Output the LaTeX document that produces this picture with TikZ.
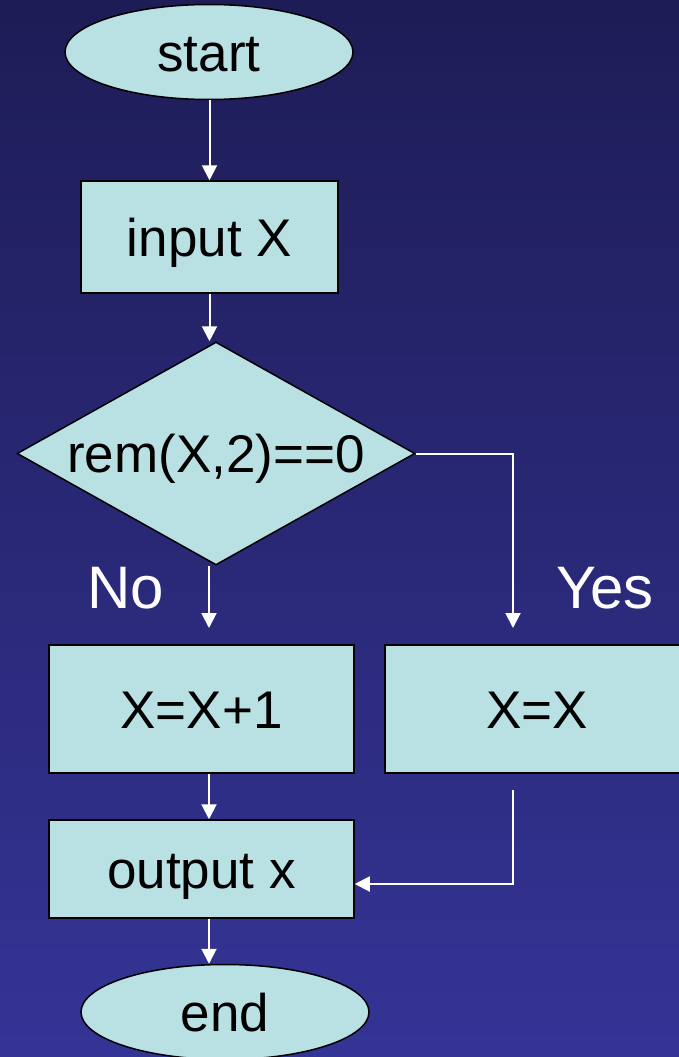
\documentclass[tikz,border=0pt]{standalone}
\usepackage{fontspec}
\setmainfont{Liberation Sans}
\usetikzlibrary{shapes.geometric}
\usetikzlibrary{arrows.meta}
\definecolor{slidetop}{RGB}{30,28,86}
\definecolor{slidebot}{RGB}{52,52,150}
\definecolor{boxfill}{RGB}{185,224,227}
\tikzset{
  block/.style={draw=black, line width=1.5pt, fill=boxfill, inner sep=0pt,
    font=\fontsize{53pt}{60pt}\selectfont, text height=38pt, text depth=0pt},
  term/.style={block, ellipse, minimum width=288pt, minimum height=95pt},
  proc/.style={block, rectangle},
  test/.style={block, diamond, shape aspect=1.785, minimum width=398pt, minimum height=223pt},
  answer/.style={text=white, font=\fontsize{60pt}{66pt}\selectfont, text height=43pt, text depth=0pt},
  flow/.style={draw=white, line width=2pt, -{Triangle[length=15pt,width=15pt]}},
}

\begin{document}
\begin{tikzpicture}[x=1pt, y=-1pt]
        \useasboundingbox (0,0) rectangle (679,1057);
        \shade[top color=slidetop, bottom color=slidebot] (0,0) rectangle (679,1057);
        % blocks
        \node[term] (start) at (209,52) {start};
        \node[proc, minimum width=257pt, minimum height=112pt] (input) at (209.5,237) {input X};
        \node[test] (cond) at (216,453.5) {rem(X,2)==0};
        \node[proc, minimum width=305pt, minimum height=128pt] (incr) at (201.5,709) {X=X+1};
        \node[proc, minimum width=304pt, minimum height=128pt] (keep) at (537,709) {X=X};
        \node[proc, minimum width=305pt, minimum height=98pt] (output) at (201.5,869) {output x};
        \node[term] (stop) at (225,1012) {end};
        % branch labels
        \node[answer] (no) at (126,586.5) {No};
        \node[answer] (yes) at (605,586.5) {Yes};
        % loose ends
        \coordinate (noend) at (209,628);
        \coordinate (yesend) at (513,628);
        \coordinate (backtop) at (513,790);
        % arrows
        \draw[flow] (start.south -| input.south) -- (input.north -| input.south);
        \draw[flow] (input.south) -- (input.south |- cond.north);
        \draw[flow] (cond.south -| noend) -- (noend);
        \draw[flow] (cond.east) -| (yesend);
        \draw[flow] (incr.south -| noend) -- (output.north -| noend);
        \draw[flow] (backtop) |- ([yshift=-15pt]output.east);
        \draw[flow] (output.south -| noend) -- (stop.north -| noend);
\end{tikzpicture}
\end{document}
